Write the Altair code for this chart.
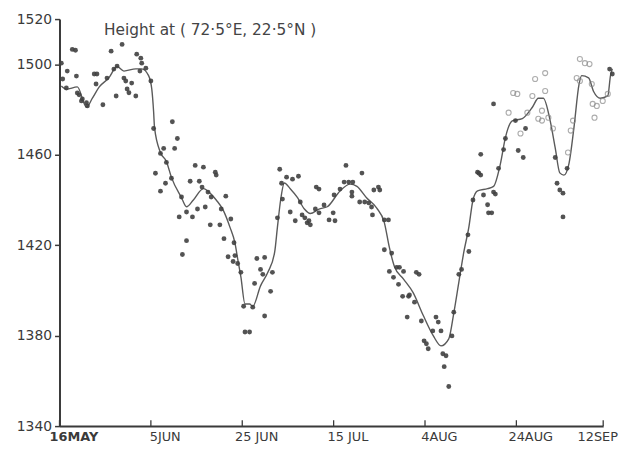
import altair as alt
import pandas as pd

# ---- data (x = days after 16 May, y = height in m) ----
line_day = [0.4, 1.5, 3.9, 5.9, 7.2, 8.7, 10.8, 12.6, 14.1, 16.7, 18.0, 19.5, 20.2, 20.6, 20.8,
            22.1, 23.4, 24.5, 26.7, 27.8, 29.3, 31.5, 33.0, 34.3, 35.8, 37.3, 38.4, 39.0, 39.7,
            40.6, 41.6, 42.3, 44.0, 45.6, 47.1, 47.7, 48.4, 49.2, 50.5, 52.1, 53.6, 54.9, 56.8,
            58.6, 61.4, 63.6, 65.1, 67.2, 69.4, 71.1, 72.2, 73.3, 75.3, 77.4, 79.6, 81.8, 83.5,
            85.2, 86.3, 87.4, 88.5, 89.6, 90.5, 91.5, 93.7, 95.0, 96.5, 97.6, 99.1, 101.3, 103.5,
            104.8, 105.9, 107.4, 108.5, 109.5, 110.4, 111.5, 112.6, 113.7, 114.3, 115.8, 116.9,
            118.4, 120.0, 120.6, 121.0]
line_val = [1490.4, 1489, 1490, 1481, 1485, 1490, 1494, 1499, 1497, 1498, 1498, 1495, 1489, 1479,
            1472, 1461, 1457, 1450, 1441, 1437, 1440, 1445, 1443, 1440, 1435.6, 1428, 1421, 1414,
            1406, 1394, 1394, 1393, 1402, 1408, 1417, 1428, 1440, 1447.5, 1445, 1441, 1436, 1434,
            1436, 1437, 1444, 1447, 1446, 1441, 1436.5, 1430, 1419, 1410.6, 1405, 1399, 1389, 1380,
            1375.5, 1378.6, 1390, 1403.6, 1417, 1428, 1440, 1444, 1445, 1446, 1456, 1467.6, 1475,
            1476, 1481, 1485, 1485, 1475, 1463, 1452, 1451, 1456, 1472, 1491, 1495, 1494, 1488,
            1485, 1486, 1495, 1498]

dot_day = [2.8, 3.5, 0.4, 1.7, 0.7, 3.7, 1.5, 3.9, 4.3, 5.0, 4.8, 5.9, 6.1, 7.6, 8.2, 8.0, 9.5,
           10.4, 11.3, 11.9, 12.6, 13.7, 12.4, 14.1, 14.5, 15.8, 14.8, 15.2, 16.7, 16.9, 17.8, 18.0,
           18.9, 17.6, 20.0, 20.6,
           24.7, 25.8, 25.2, 22.8, 22.1, 23.4, 21.0, 23.2, 24.5, 22.1, 26.7, 29.7, 31.5, 34.1, 34.3,
           28.6, 30.6, 31.2, 32.5, 33.2, 36.4, 27.8, 26.2, 29.1, 30.2, 31.9, 35.4, 37.5, 33.0, 35.1,
           27.8, 26.9, 36.0, 38.2, 36.9, 38.4, 38.0, 39.0, 39.7, 40.3, 42.3, 40.6, 41.6, 44.9, 42.7,
           43.2, 44.9, 44.0, 44.5, 46.2, 46.6, 47.7,
           48.8, 48.2, 48.6, 49.7, 51.0, 52.3, 50.5, 51.6, 52.7, 53.1, 53.7, 54.2, 54.6, 54.9, 56.0,
           56.8, 56.2, 56.8, 57.9, 59.0, 60.3, 59.9, 60.1, 61.4, 62.3, 63.3, 64.2, 62.7, 64.0, 64.0,
           66.2, 65.7, 66.8, 67.7, 68.3, 68.5, 68.8, 69.8, 70.1,
           71.1, 72.0, 71.1, 72.7, 72.2, 73.8, 74.4, 75.3, 73.1, 74.2, 78.1, 78.7, 75.1, 76.4, 76.6,
           77.7, 76.1, 79.2, 82.4, 82.9, 83.5, 81.7, 79.8, 80.3, 80.7, 83.9, 84.6, 84.2, 85.2, 85.9,
           86.3, 87.4, 88.0, 89.6, 89.4, 90.5,
           92.8, 93.7, 93.9, 94.6, 95.0, 95.4, 92.2, 91.5, 91.8, 92.2, 96.1, 97.2, 97.6, 95.0, 99.8,
           100.4, 101.5, 102.0, 108.5, 108.9, 109.5, 110.2, 110.2, 111.1, 120.4, 121.0]
dot_val = [1506.6, 1506.2, 1500.5, 1497.0, 1493.5, 1494.8, 1489.5, 1487.3, 1486.5, 1484.7, 1483.8,
           1483.0, 1481.6, 1495.7, 1495.7, 1491.3, 1482.1, 1493.9, 1505.8, 1497.9, 1499.2, 1508.8,
           1486.0, 1493.9, 1492.6, 1491.7, 1489.1, 1487.4, 1486.0, 1504.5, 1502.7, 1500.5, 1498.3,
           1497.0, 1492.6, 1471.6,
           1474.6, 1467.2, 1462.8, 1462.8, 1460.6, 1456.6, 1451.8, 1447.4, 1449.6, 1443.9, 1441.3,
           1455.3, 1454.5, 1452.3, 1451.0, 1448.3, 1448.3, 1445.7, 1443.5, 1441.3, 1441.7, 1434.7,
           1432.5, 1432.5, 1436.0, 1436.9, 1436.0, 1431.6, 1429.0, 1429.0, 1422.0, 1415.9, 1422.9,
           1421.1, 1414.9, 1415.4, 1412.8, 1411.9, 1408.0, 1393.0, 1392.6, 1381.6, 1381.6, 1388.7,
           1403.1, 1414.1, 1414.6, 1409.3, 1407.1, 1399.6, 1408.0, 1432.1,
           1440.4, 1453.6, 1447.4, 1450.1, 1449.2, 1450.5, 1434.7, 1430.8, 1439.1, 1433.4, 1432.1,
           1429.9, 1430.8, 1429.0, 1436.0, 1434.3, 1445.7, 1444.8, 1437.8, 1431.2, 1430.8, 1434.3,
           1442.2, 1444.8, 1447.9, 1447.9, 1447.9, 1455.3, 1443.5, 1441.7, 1451.9, 1439.1, 1439.1,
           1438.7, 1436.9, 1433.4, 1444.4, 1445.7, 1444.4,
           1431.2, 1431.2, 1418.0, 1416.5, 1408.4, 1410.2, 1410.2, 1408.4, 1405.8, 1402.7, 1408.0,
           1407.1, 1397.4, 1397.4, 1398.0, 1394.8, 1388.2, 1386.5, 1388.2, 1386.0, 1382.1, 1382.1,
           1377.7, 1376.4, 1374.2, 1372.0, 1371.1, 1366.3, 1357.5, 1379.9, 1390.4, 1407.1, 1409.3,
           1417.2, 1424.6, 1440.0,
           1442.2, 1437.9, 1434.3, 1434.3, 1443.5, 1442.6, 1460.2, 1452.3, 1451.8, 1451.0, 1454.0,
           1462.3, 1467.2, 1482.5, 1475.1, 1461.9, 1458.8, 1471.6, 1458.8, 1447.4, 1444.4, 1443.0,
           1432.5, 1454.0, 1497.9, 1495.7]

open_day = [98.3, 99.3, 100.2, 100.9, 102.4, 103.5, 104.1, 106.3, 106.3, 104.8, 105.6, 105.6,
            107.0, 108.0, 111.9, 112.4, 111.3, 113.2, 113.9, 113.9, 115.0, 116.0, 116.5, 116.7,
            117.6, 117.1, 118.9, 120.0]
open_val = [1478.6, 1487.3, 1486.9, 1469.4, 1478.6, 1486.0, 1493.5, 1496.1, 1488.2, 1475.9, 1475.1,
            1479.5, 1476.4, 1471.6, 1470.7, 1475.1, 1461.0, 1493.9, 1492.6, 1502.3, 1500.5, 1500.1,
            1491.3, 1482.5, 1481.6, 1476.4, 1483.8, 1486.9]

tick_days = [0, 20, 40, 60, 80, 100, 119]
tick_labels = ["16MAY", "5JUN", "25 JUN", "15 JUL", "4AUG", "24AUG", "12SEP"]
y_ticks = [1340, 1380, 1420, 1460, 1500, 1520]
title_text = "Height at ( 72·5°E, 22·5°N )"

# ---- tables ----
line_df = pd.DataFrame({"day": line_day, "h": line_val})
dot_df = pd.DataFrame({"day": dot_day, "h": dot_val})
open_df = pd.DataFrame({"day": open_day, "h": open_val})
tick_df = pd.DataFrame({"day": tick_days, "lo": [1340] * len(tick_days), "hi": [1342.6] * len(tick_days)})

label_map = "{" + ", ".join(f"'{d}': '{l}'" for d, l in zip(tick_days, tick_labels)) + "}"

FONT = "DejaVu Sans"
INK = "#3a3a3a"

xscale = alt.Scale(domain=[0, 119], nice=False, zero=False)
yscale = alt.Scale(domain=[1340, 1520], nice=False, zero=False)

xaxis = alt.Axis(
    values=tick_days,
    labelExpr=f"{label_map}[datum.value + '']",
    ticks=False, grid=False, title=None,
    domainColor=INK, domainWidth=2,
    labelFont=FONT, labelFontSize=13, labelColor=INK,
    labelPadding=5, labelAlign="center",
    labelOffset={"condition": {"test": "datum.value == 119", "value": -6}, "value": 14},
    labelFontWeight={"condition": {"test": "datum.value == 0", "value": "bold"}, "value": "normal"},
    labelFlush=False, labelOverlap=False,
)
yaxis = alt.Axis(
    values=y_ticks, grid=False, title=None, format="d",
    domainColor=INK, domainWidth=2, tickColor=INK, tickWidth=1.5, tickSize=5,
    labelFont=FONT, labelFontSize=14, labelColor=INK, labelPadding=3,
    labelFlush=False, labelOverlap=False,
)

base_x = alt.X("day:Q", scale=xscale, axis=xaxis)
base_y = alt.Y("h:Q", scale=yscale, axis=yaxis)

line = alt.Chart(line_df).mark_line(
    color="#5a5a5a", strokeWidth=1.4, interpolate="monotone", clip=False
).encode(x=base_x, y=base_y)

dots = alt.Chart(dot_df).mark_circle(
    color="#404040", size=24, opacity=0.9, clip=False
).encode(x=alt.X("day:Q", scale=xscale), y=alt.Y("h:Q", scale=yscale))

opens = alt.Chart(open_df).mark_point(
    shape="circle", filled=False, color="#8a8a8a", size=26, strokeWidth=1.1, clip=False
).encode(x=alt.X("day:Q", scale=xscale), y=alt.Y("h:Q", scale=yscale))

xticks = alt.Chart(tick_df).mark_rule(color=INK, strokeWidth=1.3).encode(
    x=alt.X("day:Q", scale=xscale), y=alt.Y("lo:Q", scale=yscale), y2="hi:Q"
)

title = alt.Chart(pd.DataFrame({"t": [title_text]})).mark_text(
    align="left", baseline="middle", font=FONT, fontSize=15.5, color="#444444"
).encode(x=alt.value(45), y=alt.value(11), text="t:N")

chart = alt.layer(line, dots, opens, xticks, title).properties(
    width=549, height=411,
    padding={"left": 52, "top": 9, "right": 20, "bottom": 28},
    autosize=alt.AutoSizeParams(type="none"),
    background="white",
).configure_view(stroke=None)

chart.save("out.html", embed_options={"renderer": "svg", "actions": False})
